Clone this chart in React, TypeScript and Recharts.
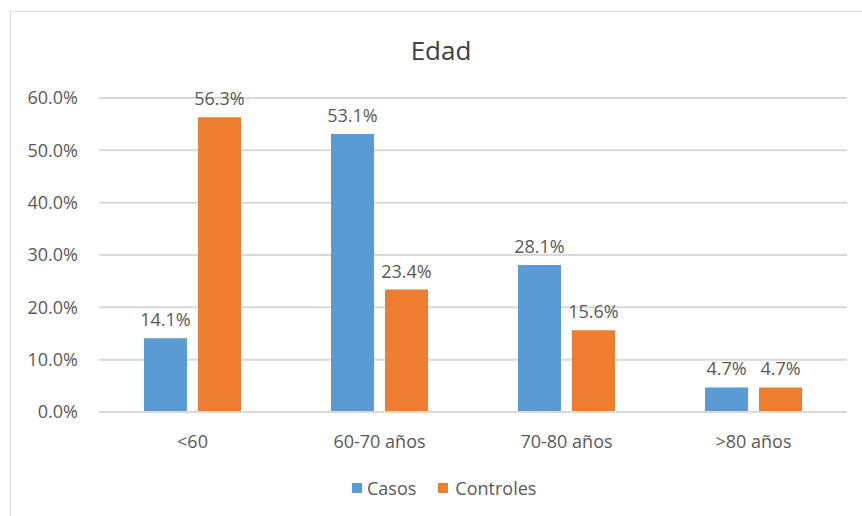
import React from "react";
import { BarChart, Bar, XAxis, YAxis, CartesianGrid, LabelList } from "recharts";

const categories = ["<60", "60-70 años", "70-80 años", ">80 años"];
const casos = [0.141, 0.531, 0.281, 0.047];
const controles = [0.563, 0.234, 0.156, 0.047];
const yTicks = [0, 0.1, 0.2, 0.3, 0.4, 0.5, 0.6];

const data = categories.map((c, i) => ({ name: c, Casos: casos[i], Controles: controles[i] }));

const BLUE = "#5B9BD5";
const ORANGE = "#ED7D31";
const TEXT = "#595959";
const FONT = "'Open Sans', sans-serif";

const pct = (v: any) => `${(Number(v) * 100).toFixed(1)}%`;

export default function App() {
  return (
    <div style={{ position: "absolute", left: 0, top: 0, width: 862, height: 516, background: "#fff", fontFamily: FONT }}>
      <div style={{ position: "absolute", left: 10, top: 11, width: 870, height: 520, border: "1px solid #d9d9d9", boxSizing: "border-box" }} />
      <div style={{ position: "absolute", left: 0, top: 32, width: 882, textAlign: "center", fontSize: 26, color: "#404040", lineHeight: "36px" }}>Edad</div>
      <div style={{ position: "absolute", left: 0, top: 0 }}>
        <BarChart
          width={862}
          height={516}
          data={data}
          margin={{ top: 98, right: 15, bottom: 74, left: 0 }}
          barCategoryGap={45}
          barGap={11}
        >
          <CartesianGrid vertical={false} stroke="#d9d9d9" strokeWidth={2} />
          <XAxis
            dataKey="name"
            height={30}
            axisLine={{ stroke: "#d9d9d9", strokeWidth: 2 }}
            tickLine={false}
            tickSize={0}
            tickMargin={23}
            tick={{ fill: TEXT, fontSize: 18, fontFamily: FONT }}
          />
          <YAxis
            width={99}
            domain={[0, 0.6]}
            ticks={yTicks}
            tickFormatter={pct}
            axisLine={false}
            tickLine={false}
            tickSize={0}
            tickMargin={21}
            tick={{ fill: TEXT, fontSize: 18, fontFamily: FONT }}
          />
          <Bar dataKey="Casos" fill={BLUE} isAnimationActive={false}>
            <LabelList dataKey="Casos" position="top" offset={12} formatter={pct} style={{ fill: TEXT, fontSize: 18, fontFamily: FONT }} />
          </Bar>
          <Bar dataKey="Controles" fill={ORANGE} isAnimationActive={false}>
            <LabelList dataKey="Controles" position="top" offset={12} formatter={pct} style={{ fill: TEXT, fontSize: 18, fontFamily: FONT }} />
          </Bar>
        </BarChart>
      </div>
      <div style={{ position: "absolute", left: 352, top: 476, display: "flex", alignItems: "center", fontSize: 18, color: TEXT, lineHeight: "24px" }}>
        <span style={{ width: 10, height: 10, background: BLUE, display: "inline-block", marginRight: 5 }} />
        <span style={{ marginRight: 22 }}>Casos</span>
        <span style={{ width: 10, height: 10, background: ORANGE, display: "inline-block", marginRight: 7 }} />
        <span>Controles</span>
      </div>
    </div>
  );
}
